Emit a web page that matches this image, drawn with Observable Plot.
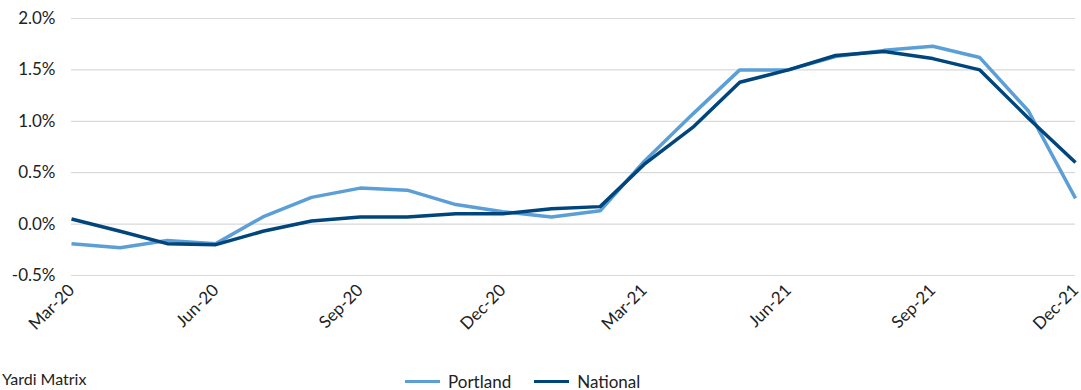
<!DOCTYPE html>
<html>
<head>
<meta charset="utf-8">
<script src="https://cdn.jsdelivr.net/npm/d3@7"></script>
<script src="https://cdn.jsdelivr.net/npm/@observablehq/plot@0.6"></script>
<style>
  html, body { margin: 0; padding: 0; background: #fff; overflow: hidden; }
  #wrap { position: relative; width: 1081px; height: 390px; font-family: Lato, "Noto Sans", sans-serif; color: #222; }
  #legend { position: absolute; top: 371px; left: 405px; display: flex; align-items: center; font-size: 17px; }
  .item { display: flex; align-items: center; margin-right: 23px; }
  .swatch { width: 35px; height: 3.5px; margin-right: 8px; }
  #source { position: absolute; top: 369px; left: 2px; font-size: 16px; }
</style>
</head>
<body>
<div id="wrap">
  <div id="chart"></div>
  <div id="legend"></div>
  <div id="source">Yardi Matrix</div>
</div>
<script>
// Monthly rent growth, year-over-year (%), Mar 2020 – Dec 2021
const months = ["2020-03","2020-04","2020-05","2020-06","2020-07","2020-08","2020-09","2020-10","2020-11","2020-12",
                "2021-01","2021-02","2021-03","2021-04","2021-05","2021-06","2021-07","2021-08","2021-09","2021-10","2021-11","2021-12"];
const portland = [-0.19,-0.23,-0.16,-0.19,0.07,0.26,0.35,0.33,0.19,0.12,0.07,0.13,0.61,1.07,1.50,1.50,1.63,1.69,1.73,1.62,1.10,0.25];
const national = [0.05,-0.07,-0.19,-0.20,-0.07,0.03,0.07,0.07,0.10,0.10,0.15,0.17,0.58,0.94,1.38,1.50,1.64,1.68,1.61,1.50,1.03,0.60];
const seriesNames = ["Portland", "National"];
const seriesColors = ["#5b9fd6", "#00457c"];
const yTicks = [-0.5, 0, 0.5, 1.0, 1.5, 2.0];
const xTickMonths = ["2020-03","2020-06","2020-09","2020-12","2021-03","2021-06","2021-09","2021-12"];

const parse = d3.utcParse("%Y-%m");
const rows = [];
months.forEach((m, i) => {
  rows.push({date: parse(m), value: portland[i], series: seriesNames[0]});
  rows.push({date: parse(m), value: national[i], series: seriesNames[1]});
});

const chart = Plot.plot({
  width: 1081,
  height: 355,
  marginTop: 18,
  marginBottom: 80,
  marginLeft: 71,
  marginRight: 6,
  style: {fontFamily: "Lato, 'Noto Sans', sans-serif", fontSize: "17px", color: "#222", background: "#fff"},
  x: {type: "utc", domain: [parse(months[0]), parse(months[months.length - 1])]},
  y: {domain: [-0.5, 2.0]},
  color: {domain: seriesNames, range: seriesColors},
  marks: [
    Plot.gridY(yTicks, {stroke: "#d9d9d9", strokeOpacity: 1, strokeWidth: 1.2}),
    Plot.axisY(yTicks, {tickSize: 0, tickPadding: 16, tickFormat: d => d.toFixed(1) + "%", fontSize: 17, label: null}),
    Plot.axisX(xTickMonths.map(parse), {tickSize: 0, tickRotate: -45, tickPadding: 12, tickFormat: d3.utcFormat("%b-%y"), fontSize: 17, label: null}),
    Plot.line(rows, {x: "date", y: "value", z: "series", stroke: "series", strokeWidth: 3.5, strokeLinejoin: "miter", strokeLinecap: "butt"})
  ]
});
document.getElementById("chart").appendChild(chart);

const legend = document.getElementById("legend");
seriesNames.forEach((name, i) => {
  const item = document.createElement("div");
  item.className = "item";
  const sw = document.createElement("div");
  sw.className = "swatch";
  sw.style.background = seriesColors[i];
  const label = document.createElement("span");
  label.textContent = name;
  item.appendChild(sw);
  item.appendChild(label);
  legend.appendChild(item);
});
</script>
</body>
</html>
